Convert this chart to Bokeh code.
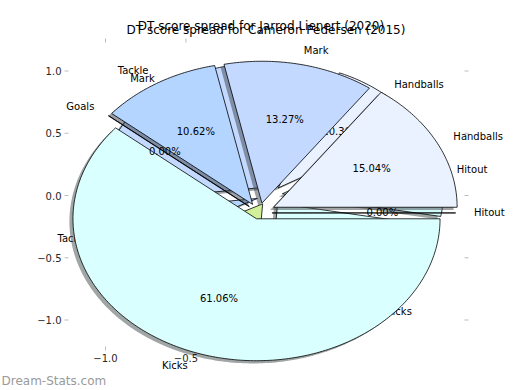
import numpy as np
from bokeh.plotting import figure
from bokeh.models import Range1d, ColumnDataSource
from bokeh.core.properties import value
from bokeh.embed import file_html
from bokeh.resources import INLINE

# ---------------- data ----------------
categories = ["Hitout", "Handballs", "Mark", "Tackle", "Goals", "Kicks"]
pedersen_pct = [0.0, 15.04, 13.27, 10.62, 0.0, 61.06]     # front pie (2015)
lienert_pct = [11.4, 10.3, 33.1, 5.8, 16.2, 23.2]          # back pie (2020)
cat_colors = ["#d0fafa", "#eaf2ff", "#c4d9ff", "#b4d5ff", "#d2ef9a", "#d9ffff"]
pedersen_explode = [0.08, 0.10, 0.08, 0.08, 0.08, 0.05]
lienert_explode = [0.08, 0.08, 0.08, 0.08, 0.08, 0.08]
y_ticks = [-1.0, -0.5, 0.0, 0.5, 1.0]
y_tick_labels = ["\u22121.0", "\u22120.5", "0.0", "0.5", "1.0"]
x_ticks = [-1.0, -0.5]
x_tick_labels = ["\u22121.0", "\u22120.5"]
title_front = "DT score spread for Cameron Pedersen (2015)"
title_back = "DT score spread for Jarrod Lienert (2020)"
watermark = "Dream-Stats.com"

FONT = "DejaVu Sans"
W, H = 516, 388
# data <-> pixel scale of the (matplotlib-like) axes box
SX, SY = 161.0, 124.5          # px per data unit
X0, Y0 = 266.0, 195.0          # pixel position of data (0, 0)


def px2x(px):
    return (px - X0) / SX


def px2y(py):
    return (Y0 - py) / SY


p = figure(width=W, height=H, x_range=Range1d(px2x(0), px2x(W)), y_range=Range1d(px2y(H), px2y(0)),
           output_backend="svg", toolbar_location=None,
           x_axis_location=None, y_axis_location=None,
           min_border_left=0, min_border_right=0, min_border_top=0, min_border_bottom=0)
p.outline_line_color = None
p.grid.grid_line_color = None
p.background_fill_color = "white"
p.border_fill_color = "white"

# ---------------- axes box ticks ----------------
ax_l, ax_r, ax_t, ax_b = px2x(68), px2x(464), px2y(42), px2y(346)
tlx, tly = 4 / SX, 4 / SY
tick_col = "#bdbdbd"
p.segment(x0=[ax_l - tlx] * len(y_ticks), y0=y_ticks, x1=[ax_l] * len(y_ticks), y1=y_ticks,
          line_color=tick_col, line_width=1)
p.segment(x0=[ax_r] * len(y_ticks), y0=y_ticks, x1=[ax_r + tlx] * len(y_ticks), y1=y_ticks,
          line_color=tick_col, line_width=1)
p.segment(x0=x_ticks, y0=[ax_t] * len(x_ticks), x1=x_ticks, y1=[ax_t + tly] * len(x_ticks),
          line_color=tick_col, line_width=1)
p.segment(x0=x_ticks, y0=[ax_b - tly] * len(x_ticks), x1=x_ticks, y1=[ax_b] * len(x_ticks),
          line_color=tick_col, line_width=1)
p.text(x=[ax_l - 7 / SX] * len(y_ticks), y=y_ticks, text=y_tick_labels, text_align="right",
       text_baseline="middle", text_font=value(FONT), text_font_size=value("10px"), text_color="#262626")
p.text(x=x_ticks, y=[ax_b - 7 / SY] * len(x_ticks), text=x_tick_labels, text_align="center",
       text_baseline="top", text_font=value(FONT), text_font_size=value("10px"), text_color="#262626",
       level="annotation")


def darker(hexc, f=0.3):
    r, g, b = (int(hexc[i:i + 2], 16) for i in (1, 3, 5))
    return "#%02x%02x%02x" % (int(r * f), int(g * f), int(b * f))


def draw_pie(values, explode, cx, cy, R, startangle, wedge_level, text_level, shadow_off=0.022):
    total = float(sum(values))
    starts = startangle + np.concatenate([[0.0], np.cumsum(values)[:-1]]) / total * 360.0
    spans = np.array(values) / total * 360.0
    xs, ys, sxs, sys_, fills, sfills = [], [], [], [], [], []
    tx, ty, tt, ta = [], [], [], []
    for cat, v, ex, a0, sp, col in zip(categories, values, explode, starts, spans, cat_colors):
        a1 = a0 + sp
        mid = np.deg2rad(a0 + sp / 2.0)
        ox = cx + ex * np.cos(mid)
        oy = cy + ex * np.sin(mid)
        t = np.deg2rad(np.linspace(a0, a1, max(2, int(sp) + 2)))
        px = np.concatenate([[ox], ox + R * np.cos(t), [ox]])
        py = np.concatenate([[oy], oy + R * np.sin(t), [oy]])
        xs.append(list(px)); ys.append(list(py))
        sxs.append(list(px - shadow_off)); sys_.append(list(py - shadow_off))
        fills.append(col); sfills.append(darker(col))
        tx.append(ox + 1.1 * R * np.cos(mid)); ty.append(oy + 1.1 * R * np.sin(mid))
        tt.append(cat); ta.append("left" if np.cos(mid) > 0 else "right")
        tx.append(ox + 0.6 * R * np.cos(mid)); ty.append(oy + 0.6 * R * np.sin(mid))
        tt.append("%.2f%%" % v); ta.append("center")
    sh = ColumnDataSource(dict(xs=sxs, ys=sys_, fill=sfills))
    p.patches("xs", "ys", source=sh, fill_color="fill", fill_alpha=0.5, line_color=None, level=wedge_level)
    src = ColumnDataSource(dict(xs=xs, ys=ys, fill=fills))
    p.patches("xs", "ys", source=src, fill_color="fill", line_color="black", line_width=0.8, level=wedge_level)
    ts = ColumnDataSource(dict(x=tx, y=ty, text=tt, align=ta))
    p.text("x", "y", text="text", text_align="align", source=ts, text_baseline="middle",
           text_font=value(FONT), text_font_size=value("10px"), text_color="black", level=text_level)


# back pie (drawn first, mostly hidden by the front pie)
draw_pie(lienert_pct, lienert_explode, 0.02, 0.0, 1.0, -10.5, "image", "underlay")
# front pie
draw_pie(pedersen_pct, pedersen_explode, -0.045, -0.14, 1.14, 0.0, "glyph", "annotation")

# titles and watermark
p.text(x=[px2x(260.5)], y=[px2y(25.5)], text=[title_back], text_align="center", text_baseline="middle",
       text_font=value(FONT), text_font_size=value("12px"), text_color="black", level="annotation")
p.text(x=[px2x(265.5)], y=[px2y(29.5)], text=[title_front], text_align="center", text_baseline="middle",
       text_font=value(FONT), text_font_size=value("12px"), text_color="black", level="annotation")
p.text(x=[px2x(1)], y=[px2y(380)], text=[watermark], text_align="left", text_baseline="middle",
       text_font=value(FONT), text_font_size=value("12px"), text_color="#9a9a9a", level="annotation")

open("out.html", "w").write(file_html(p, INLINE))
